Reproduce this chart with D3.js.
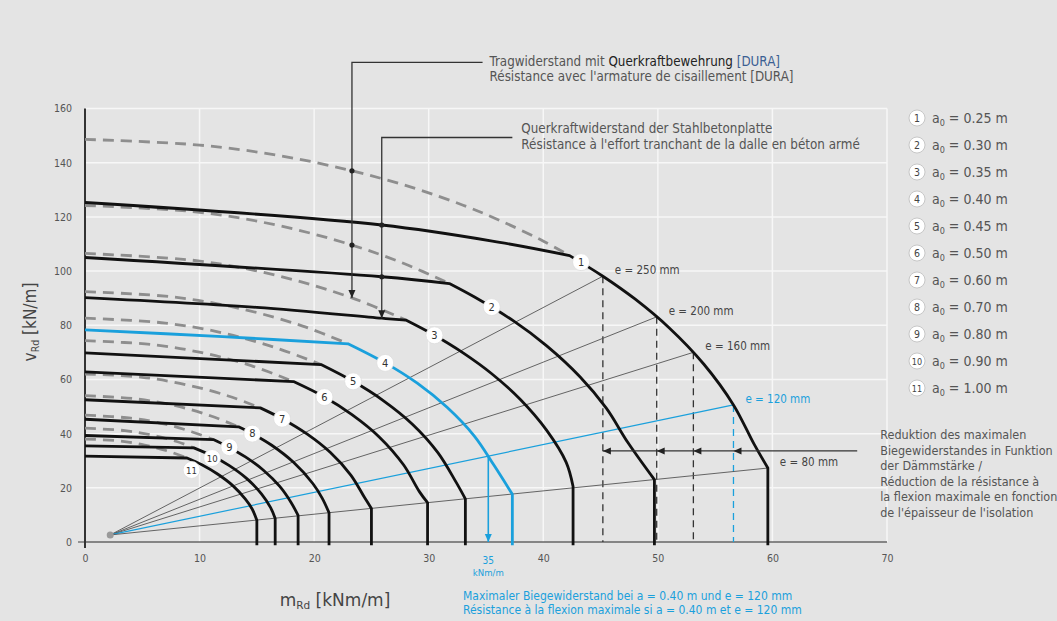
<!DOCTYPE html>
<html>
<head>
<meta charset="utf-8">
<script src="https://cdn.jsdelivr.net/npm/d3@7"></script>
<style>
  body { margin: 0; background: #e4e4e4; }
  text { font-family: "DejaVu Sans Condensed", "Liberation Sans Narrow", "DejaVu Sans", sans-serif; fill: #4a4a4a; }
</style>
</head>
<body>
<div id="chart-area"></div>
<script>
/* Data (m in kNm/m, v in kN/m) */

var xTicks = [0, 10, 20, 30, 40, 50, 60, 70];
var yTicks = [0, 20, 40, 60, 80, 100, 120, 140, 160];
var a0Values = ["0.25", "0.30", "0.35", "0.40", "0.45", "0.50", "0.60", "0.70", "0.80", "0.90", "1.00"];

// shear part of each curve (from the v axis to the bend)
var plateTop = [
  [[0, 125.3], [25.9, 117], [36.2, 110.6], [42.3, 105.7]],
  [[0, 105], [25.9, 97.9], [31.8, 95.4]],
  [[0, 90.2], [15, 86.6], [25.9, 82.6], [28, 81.9]],
  [[0, 78.3], [12, 75.8], [23, 73.1]],
  [[0, 69.8], [20.6, 65.5]],
  [[0, 62.8], [18.2, 59.2]],
  [[0, 52.5], [15.3, 49.5]],
  [[0, 45.3], [13.4, 42.5]],
  [[0, 39.3], [11.2, 37.8]],
  [[0, 35.5], [9.5, 34.75]],
  [[0, 31.7], [8.9, 31.0]]
];

// bending part of each curve (from the bend down to the e = 80 mm ray)
var plateArc = [
  [[42.3, 105.7], [45.2, 98.1], [48, 89.7], [51, 79.0], [54, 65.7], [56.6, 50.6], [58.4, 36.1], [59.6, 27.3]],
  [[31.8, 95.4], [34, 90.4], [37.4, 81.6], [40.3, 72.4], [43.2, 61.0], [45.5, 49.4], [47.4, 36.6], [49.7, 23.0]],
  [[28, 81.9], [30.5, 76.3], [33, 69.8], [35.5, 62.1], [38, 52.6], [40.3, 41.2], [42, 29.4], [42.6, 20.5]],
  [[23, 73.1], [26.2, 66.1], [29, 58.6], [31.6, 49.7], [34, 39.0], [35.7, 28.3], [37.3, 17.6]],
  [[20.6, 65.5], [23.4, 59.3], [26, 52.3], [28.6, 43.4], [30.8, 33.0], [32.4, 22.0], [33.2, 15.9]],
  [[18.2, 59.2], [20.9, 53.5], [23.3, 47.0], [25.7, 38.7], [27.8, 28.5], [29.2, 18.5], [29.9, 14.5]],
  [[15.3, 49.5], [17.2, 45.5], [19.4, 39.8], [21.4, 33.1], [23.2, 24.7], [24.4, 16.4], [25.0, 12.4]],
  [[13.4, 42.5], [14.6, 40.0], [16.3, 35.7], [18.2, 29.4], [19.9, 21.5], [20.7, 16.2], [21.3, 10.8]],
  [[11.2, 37.8], [12.5, 35.1], [14, 31.4], [15.6, 26.4], [17, 20.5], [18, 14.5], [18.6, 9.8]],
  [[9.5, 34.75], [11.2, 31.6], [12.6, 28.2], [14.1, 23.5], [15.4, 17.8], [16.2, 12.7], [16.6, 8.7]],
  [[8.9, 31.0], [10.2, 28.5], [11.6, 25.0], [12.9, 20.8], [14, 15.8], [14.6, 12.1], [15.0, 8.0]]
];

// shear resistance with DURA reinforcement (dashed), ends at the bend
var duraCurves = [
  [[0, 148.6], [10, 146.5], [17, 142.6], [23.3, 137], [28.6, 130.8], [33, 124.3], [36.2, 118.7], [39.7, 111.7], [42.3, 105.7]],
  [[0, 124.2], [10, 121.7], [17, 116.7], [23.3, 109.6], [28, 102.5], [31.8, 95.4]],
  [[0, 106.5], [10, 103.7], [17, 98.1], [23.3, 90.1], [28, 81.9]],
  [[0, 92.4], [8, 90.3], [14, 85.7], [19, 79.7], [23, 73.1]],
  [[0, 82.6], [7, 80.8], [12, 77.2], [16.5, 71.9], [20.6, 65.5]],
  [[0, 74.3], [6, 72.8], [10.5, 69.6], [14.5, 65.1], [18.2, 59.2]],
  [[0, 62.0], [5, 60.8], [9, 57.9], [12.5, 53.9], [15.3, 49.5]],
  [[0, 54.0], [4.5, 52.8], [8, 50.2], [11, 46.5], [13.4, 42.5]],
  [[0, 46.8], [4, 45.7], [7, 43.5], [9.3, 40.7], [11.2, 37.8]],
  [[0, 42.0], [3.5, 41.1], [6, 39.3], [8, 37.1], [9.5, 34.75]],
  [[0, 38.0], [3, 37.3], [5.2, 35.8], [7.2, 33.6], [8.9, 31.0]]
];

// where the numbered circles sit on each curve
var curveLabelPos = [[43.3, 103.3], [35.5, 86.7], [30.5, 76.3], [26.2, 66.1], [23.4, 59.3],
  [20.9, 53.5], [17.2, 45.5], [14.6, 40.0], [12.6, 35.0], [11.1, 31.0], [9.3, 26.6]];

var highlight = 3; // a0 = 0.40 m

// insulation thickness rays
var rayOrigin = [2.2, 2.6];
var insulation = [250, 200, 160, 120, 80];
var rayEnds = [[45.2, 98.1], [49.9, 83.1], [53.1, 70.0], [56.6, 50.6], [59.6, 27.3]];

var maxMoment = [35.2, 31.7];
var reductionV = 33.6, reductionEnd = 67.4;

var duraLeader = { m: 23.3, top: 177, end: 34.7, hits: [137, 109.6], tip: 90.1 };
var plateLeader = { m: 25.9, top: 149.3, end: 37.3, hits: [117, 97.9], tip: 82.6 };

var duraText = [["Tragwiderstand mit ", "Querkraftbewehrung ", "[DURA]"], ["Résistance avec l'armature de cisaillement [DURA]"]];
var plateText = ["Querkraftwiderstand der Stahlbetonplatte", "Résistance à l'effort tranchant de la dalle en béton armé"];
var reductionText = ["Reduktion des maximalen", "Biegewiderstandes in Funktion", "der Dämmstärke /",
  "Réduction de la résistance à", "la flexion maximale en fonction", "de l'épaisseur de l'isolation"];
var maxText = ["Maximaler Biegewiderstand bei a = 0.40 m und e = 120 mm",
  "Résistance à la flexion maximale si a = 0.40 m et e = 120 mm"];

var BLUE = "#1aa0dc";

/* Setting margins, width and height */
var margin = { left: 85, right: 170, top: 108.5, bottom: 79 };
var width = 1057 - margin.left - margin.right;
var height = 621 - margin.top - margin.bottom;

var svg = d3.select("#chart-area").append("svg")
  .attr("width", 1057)
  .attr("height", 621);

svg.append("rect").attr("width", 1057).attr("height", 621).attr("fill", "#e4e4e4");

var g = svg.append("g")
  .attr("transform", "translate(" + margin.left + ", " + margin.top + ")");

var x = d3.scaleLinear().domain([0, 70]).range([0, width]);
var y = d3.scaleLinear().domain([0, 160]).range([height, 0]);

/* Grid */
g.selectAll(".vgrid").data(xTicks.slice(1)).enter().append("line")
  .attr("x1", (d) => x(d)).attr("x2", (d) => x(d))
  .attr("y1", y(0)).attr("y2", y(160))
  .attr("stroke", "#f7f7f7").attr("stroke-width", 1.5);
g.selectAll(".hgrid").data(yTicks.slice(1)).enter().append("line")
  .attr("x1", 0).attr("x2", x(70))
  .attr("y1", (d) => y(d)).attr("y2", (d) => y(d))
  .attr("stroke", "#f7f7f7").attr("stroke-width", 1.5);

/* Axes */
var yAxis = g.append("g").call(d3.axisLeft(y).tickValues(yTicks).tickSize(0).tickPadding(13));
yAxis.select(".domain").remove();
yAxis.selectAll("text").attr("font-size", "10.5px").style("fill", "#555");

var xAxis = g.append("g").attr("transform", "translate(0," + height + ")")
  .call(d3.axisBottom(x).tickValues(xTicks).tickSize(0).tickPadding(13));
xAxis.select(".domain").remove();
xAxis.selectAll("text").attr("font-size", "10.5px").style("fill", "#555");

g.append("line").attr("x1", 0).attr("x2", x(70)).attr("y1", y(0)).attr("y2", y(0))
  .attr("stroke", "#666").attr("stroke-width", 1.3);
g.append("line").attr("x1", -7).attr("x2", 0).attr("y1", y(0)).attr("y2", y(0))
  .attr("stroke", "#666").attr("stroke-width", 1.3);
g.append("line").attr("x1", 0).attr("x2", 0).attr("y1", y(0) + 6).attr("y2", y(160))
  .attr("stroke", "#333").attr("stroke-width", 2);

/* Line generators */
var line = d3.line().x((d) => x(d[0])).y((d) => y(d[1]));
var smooth = d3.line().x((d) => x(d[0])).y((d) => y(d[1])).curve(d3.curveCatmullRom.alpha(0.5));

/* Rays for the insulation thickness */
rayEnds.forEach((p, i) => {
  var isBlue = insulation[i] === 120;
  g.append("path").attr("d", line([rayOrigin, p]))
    .attr("fill", "none").attr("stroke", isBlue ? BLUE : "#555").attr("stroke-width", isBlue ? 1.2 : 0.9);
  if (insulation[i] !== 80) {
    g.append("path").attr("d", line([p, [p[0], 0]]))
      .attr("fill", "none").attr("stroke", isBlue ? BLUE : "#333")
      .attr("stroke-width", 1.3).attr("stroke-dasharray", "7,5");
  }
  g.append("text")
    .attr("x", x(p[0]) + 12).attr("y", y(p[1]) - 2)
    .attr("font-size", "11.5px").style("fill", isBlue ? BLUE : "#444")
    .text("e = " + insulation[i] + " mm");
});
g.append("circle").attr("cx", x(rayOrigin[0])).attr("cy", y(rayOrigin[1])).attr("r", 3.5)
  .attr("fill", "#9a9a9a");

/* DURA curves (dashed) */
g.selectAll(".dura").data(duraCurves).enter().append("path")
  .attr("d", (d) => smooth(d))
  .attr("fill", "none").attr("stroke", "#8e8e8e").attr("stroke-width", 2.8)
  .attr("stroke-dasharray", "11,7");

/* Plate curves */
g.selectAll(".plate").data(plateTop).enter().append("path")
  .attr("d", (d, i) => {
    var arc = plateArc[i];
    var last = arc[arc.length - 1];
    return smooth(d) + smooth(arc).replace(/^M/, "L") + "L" + x(last[0]) + "," + y(-1.2);
  })
  .attr("fill", "none")
  .attr("stroke", (d, i) => i === highlight ? BLUE : "#111")
  .attr("stroke-width", 2.8)
  .attr("stroke-linejoin", "round");

/* Max moment arrow for a0 = 0.40 m, e = 120 mm */
g.append("path").attr("d", line([maxMoment, [maxMoment[0], 0]]))
  .attr("stroke", BLUE).attr("stroke-width", 1.6);
g.append("path")
  .attr("d", "M" + (x(maxMoment[0]) - 3.5) + "," + (y(0) - 8) + "L" + (x(maxMoment[0]) + 3.5) + "," + (y(0) - 8) + "L" + x(maxMoment[0]) + "," + y(0) + "Z")
  .attr("fill", BLUE);
g.append("text").attr("x", x(maxMoment[0])).attr("y", y(0) + 22)
  .attr("text-anchor", "middle").attr("font-size", "10px").style("fill", BLUE).text("35");
g.append("text").attr("x", x(maxMoment[0])).attr("y", y(0) + 34)
  .attr("text-anchor", "middle").attr("font-size", "9.5px").style("fill", BLUE).text("kNm/m");

/* Numbered circles on the curves */
curveLabelPos.forEach((p, i) => {
  g.append("circle").attr("cx", x(p[0])).attr("cy", y(p[1])).attr("r", 8.5)
    .attr("fill", "#fff").attr("stroke", "#ddd").attr("stroke-width", 0.8);
  g.append("text").attr("x", x(p[0])).attr("y", y(p[1]) + 3.8)
    .attr("text-anchor", "middle").attr("font-size", i >= 9 ? "9.5px" : "11px")
    .style("fill", "#333").text(i + 1);
});

/* Leaders */
function arrowDown(px, py) {
  return "M" + (px - 3.5) + "," + (py - 8) + "L" + (px + 3.5) + "," + (py - 8) + "L" + px + "," + py + "Z";
}
[duraLeader, plateLeader].forEach((L) => {
  g.append("path").attr("d", line([[L.end, L.top], [L.m, L.top], [L.m, L.tip]]))
    .attr("fill", "none").attr("stroke", "#333").attr("stroke-width", 1.3);
  L.hits.forEach((v) => {
    g.append("circle").attr("cx", x(L.m)).attr("cy", y(v)).attr("r", 2.6).attr("fill", "#222");
  });
  g.append("path").attr("d", arrowDown(x(L.m), y(L.tip))).attr("fill", "#222");
});

// first line mixes plain, darker and blue-ish parts
var duraColors = ["#555", "#222", "#3b5f93"];
duraText.forEach((parts, i) => {
  var t = g.append("text")
    .attr("x", x(duraLeader.end) + 7).attr("y", y(duraLeader.top) + 4 + i * 14.5)
    .attr("font-size", "13.3px");
  parts.forEach((p, j) => {
    t.append("tspan").style("fill", parts.length > 1 ? duraColors[j] : "#555").text(p);
  });
});
g.selectAll(".plateText").data(plateText).enter().append("text")
  .attr("x", x(plateLeader.end) + 9).attr("y", (d, i) => y(plateLeader.top) - 4 + i * 15.5)
  .attr("font-size", "13.3px").style("fill", "#555").text((d) => d);

/* Reduction bracket */
g.append("path").attr("d", line([[rayEnds[0][0], reductionV], [reductionEnd, reductionV]]))
  .attr("stroke", "#333").attr("stroke-width", 1.3);
rayEnds.slice(0, 4).forEach((p) => {
  var px = x(p[0]), py = y(reductionV);
  g.append("path").attr("d", "M" + px + "," + py + "L" + (px + 8) + "," + (py - 3.5) + "L" + (px + 8) + "," + (py + 3.5) + "Z")
    .attr("fill", "#222");
});
g.selectAll(".redText").data(reductionText).enter().append("text")
  .attr("x", x(reductionEnd) + 23).attr("y", (d, i) => y(reductionV) - 12 + i * 15.6)
  .attr("font-size", "12.5px").style("fill", "#555").text((d) => d);

/* Legend */
var legend = svg.append("g").attr("transform", "translate(917,118)");
a0Values.forEach((a, i) => {
  var row = legend.append("g").attr("transform", "translate(0," + i * 27 + ")");
  row.append("circle").attr("r", 8).attr("fill", "#fff").attr("stroke", "#bbb").attr("stroke-width", 0.8);
  row.append("text").attr("y", 3.8).attr("text-anchor", "middle")
    .attr("font-size", i >= 9 ? "9px" : "10.5px").style("fill", "#444").text(i + 1);
  var t = row.append("text").attr("x", 15).attr("y", 4.8).attr("font-size", "14px").style("fill", "#555");
  t.append("tspan").text("a");
  t.append("tspan").attr("font-size", "9px").attr("dy", 3).text("0");
  t.append("tspan").attr("dy", -3).text(" = " + a + " m");
});

/* Axis titles */
var yTitle = svg.append("text")
  .attr("transform", "translate(36,322) rotate(-90)")
  .attr("text-anchor", "middle").attr("font-size", "17px").style("fill", "#444");
yTitle.append("tspan").text("v");
yTitle.append("tspan").attr("font-size", "10.5px").attr("dy", 3).text("Rd");
yTitle.append("tspan").attr("dy", -3).text(" [kN/m]");

var xTitle = svg.append("text")
  .attr("x", 335).attr("y", 606)
  .attr("text-anchor", "middle").attr("font-size", "17px")
  .style("font-family", "'DejaVu Sans', sans-serif").style("fill", "#444");
xTitle.append("tspan").text("m");
xTitle.append("tspan").attr("font-size", "10.5px").attr("dy", 3).text("Rd");
xTitle.append("tspan").attr("dy", -3).text(" [kNm/m]");

/* Blue note under the axis */
svg.selectAll(".maxText").data(maxText).enter().append("text")
  .attr("x", 463).attr("y", (d, i) => 600 + i * 14)
  .attr("font-size", "12px").style("fill", BLUE).text((d) => d);
</script>
</body>
</html>
